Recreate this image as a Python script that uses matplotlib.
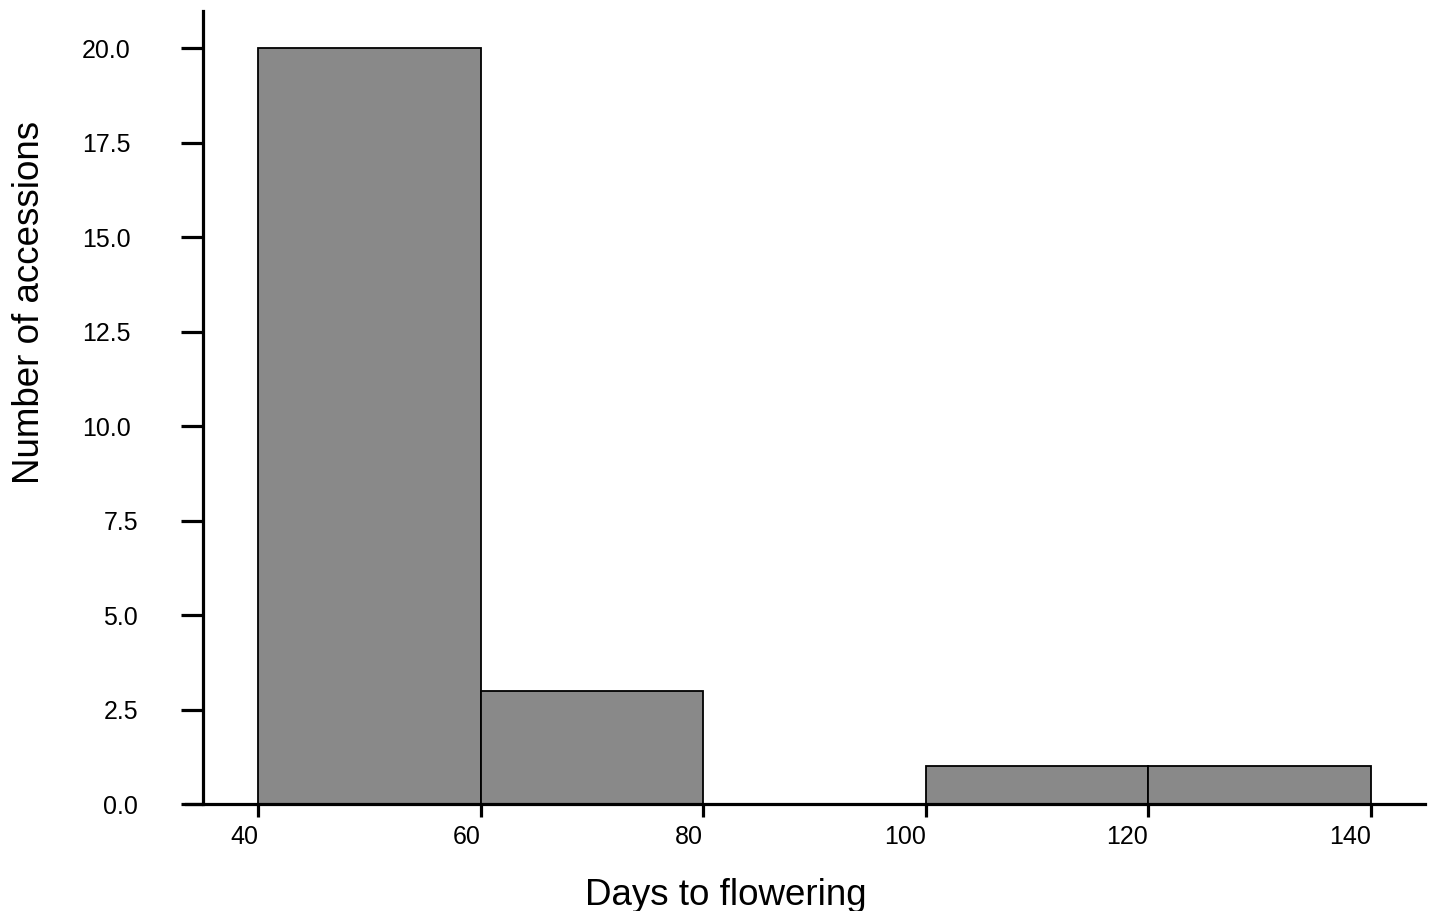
import matplotlib
matplotlib.use("Agg")
import matplotlib.pyplot as plt
from matplotlib.transforms import ScaledTranslation

bin_edges = [40, 60, 80, 100, 120, 140]
counts = [20, 3, 0, 1, 1]
x_ticks = [40, 60, 80, 100, 120, 140]
y_ticks = [0.0, 2.5, 5.0, 7.5, 10.0, 12.5, 15.0, 17.5, 20.0]
x_label = "Days to flowering"
y_label = "Number of accessions"

plt.rcParams['font.family'] = ['Liberation Sans', 'DejaVu Sans']

DPI = 100
fig = plt.figure(figsize=(14.3, 9.11), dpi=DPI)
W, H = 1430, 911
left, right, top, bottom = 186, 1425, 11, 804
ax = fig.add_axes([left / W, 1 - bottom / H, (right - left) / W, (bottom - top) / H])

widths = [bin_edges[i + 1] - bin_edges[i] for i in range(len(counts))]
ax.bar(bin_edges[:-1], counts, width=widths, align='edge', color='#898989',
       edgecolor='black', linewidth=1.3)

ax.set_xlim(33.5, 144.9)
ax.set_ylim(0, 20.98)
ax.spines['left'].set_position(('data', 35.05))
for s in ['top', 'right']:
    ax.spines[s].set_visible(False)
for s in ['left', 'bottom']:
    ax.spines[s].set_linewidth(2.3)

ax.set_xticks(x_ticks)
ax.set_yticks(y_ticks)
ax.set_yticklabels([f"{v:.1f}" for v in y_ticks])
ax.tick_params(axis='x', length=9, width=2.3, labelsize=18, pad=6)
ax.tick_params(axis='y', length=16, width=2.3, labelsize=18, pad=18.5)
for lab in ax.get_xticklabels():
    lab.set_ha('right')

ax.set_xlabel(x_label, fontsize=26.5, labelpad=21, x=(726 - left) / (right - left))
ax.set_ylabel(y_label, fontsize=26.5, labelpad=25, y=(bottom - 302.5) / (bottom - top))

# shift y tick labels left by half their width (as in the reference)
fig.canvas.draw()
renderer = fig.canvas.get_renderer()
for lab in ax.get_yticklabels():
    w = lab.get_window_extent(renderer).width
    lab.set_transform(lab.get_transform() + ScaledTranslation(-w / 2 / DPI, 0, fig.dpi_scale_trans))

fig.savefig("out.png", dpi=DPI)
